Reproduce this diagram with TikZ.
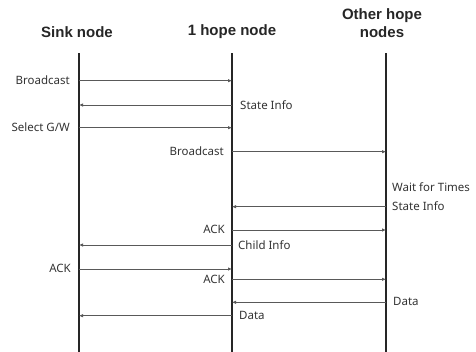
\documentclass[tikz,border=0pt]{standalone}
\usepackage{fontspec}
\setmainfont{Noto Sans}
\newfontfamily\ttlfont{Liberation Sans}
\usetikzlibrary{arrows.meta}
\begin{document}
\begin{tikzpicture}[x=1pt,y=-1pt,
  lbl/.style={font=\fontsize{11.5}{13}\selectfont, text=black!80, inner sep=0pt},
  ttl/.style={font=\ttlfont\bfseries\fontsize{15}{18}\selectfont, text=black!85, align=center, inner sep=0pt},
  life/.style={line width=1.8pt, draw=black!85},
  msg/.style={line width=1pt, draw=black!65, -{Latex[length=4pt,width=3.5pt]}}]
\useasboundingbox (0,0) rectangle (476,351);
\clip (0,0) rectangle (476,351);
% titles
\node[ttl] (tsink) at (77,32) {Sink node};
\node[ttl] (thop) at (232,32) {1 hope node};
\node[ttl] (tother) at (382,23) {Other hope\\nodes};
% lifelines
\coordinate (sinkT) at (79,53);   \coordinate (sinkB) at (79,352);
\coordinate (hopT) at (232,53);   \coordinate (hopB) at (232,352);
\coordinate (othT) at (386,53);   \coordinate (othB) at (386,352);
\draw[life] (sinkT) -- (sinkB);
\draw[life] (hopT) -- (hopB);
\draw[life] (othT) -- (othB);
% message end points
\coordinate (s1) at (79,80.7);  \coordinate (h1) at (232,80.7);
\coordinate (s2) at (79,105);   \coordinate (h2) at (232,105);
\coordinate (s3) at (79,127.7); \coordinate (h3) at (232,127.7);
\coordinate (h4) at (232,151.7); \coordinate (o4) at (386,151.7);
\coordinate (h6) at (232,206.7); \coordinate (o6) at (386,206.7);
\coordinate (h7) at (232,230);  \coordinate (o7) at (386,230);
\coordinate (s8) at (79,245);   \coordinate (h8) at (232,245);
\coordinate (s9) at (79,269);   \coordinate (h9) at (232,269);
\coordinate (h10) at (232,279.3); \coordinate (o10) at (386,279.3);
\coordinate (h11) at (232,302.3); \coordinate (o11) at (386,302.3);
\coordinate (s12) at (79,315.7); \coordinate (h12) at (232,315.7);
% messages
\draw[msg] (s1) -- (h1);
\draw[msg] (h2) -- (s2);
\draw[msg] (s3) -- (h3);
\draw[msg] (h4) -- (o4);
\draw[msg] (o6) -- (h6);
\draw[msg] (h7) -- (o7);
\draw[msg] (h8) -- (s8);
\draw[msg] (s9) -- (h9);
\draw[msg] (h10) -- (o10);
\draw[msg] (o11) -- (h11);
\draw[msg] (h12) -- (s12);
% labels
\node[lbl, anchor=east] (l1) at (70,80) {Broadcast};
\node[lbl, anchor=west] (l2) at (240,105) {State Info};
\node[lbl, anchor=east] (l3) at (70,127) {Select G/W};
\node[lbl, anchor=east] (l4) at (224,151) {Broadcast};
\node[lbl, anchor=west] (l5) at (392,187) {Wait for Times};
\node[lbl, anchor=west] (l6) at (392,206) {State Info};
\node[lbl, anchor=east] (l7) at (225,229.5) {ACK};
\node[lbl, anchor=west] (l8) at (238,245) {Child Info};
\node[lbl, anchor=east] (l9) at (71,268) {ACK};
\node[lbl, anchor=east] (l10) at (225,279.5) {ACK};
\node[lbl, anchor=west] (l11) at (393,301.5) {Data};
\node[lbl, anchor=west] (l12) at (239,315) {Data};
\end{tikzpicture}
\end{document}
